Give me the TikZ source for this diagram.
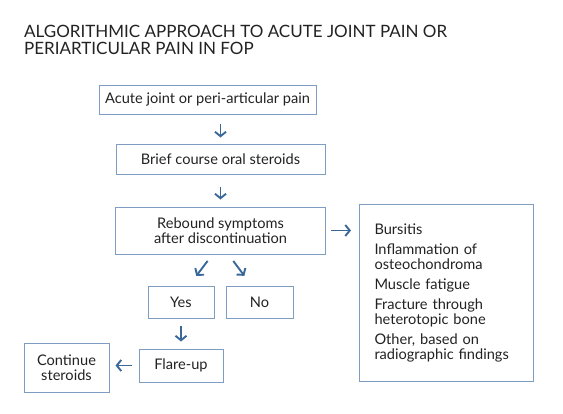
\documentclass[tikz,border=0pt]{standalone}
\usepackage{xcolor}
\usepackage{fontspec}
\setmainfont{Lato}
\usepackage{tikz}
\usetikzlibrary{arrows.meta, positioning}

\definecolor{boxline}{HTML}{7F9CC2}
\definecolor{arrowblue}{HTML}{3A6898}
\definecolor{inktext}{HTML}{222222}

\begin{document}
\begin{tikzpicture}[x=1pt, y=-1pt, node distance=30pt,
    box/.style={rectangle, draw=boxline, line width=1pt, text=inktext, align=center,
      font=\fontsize{14.6}{15}\selectfont, inner sep=2pt},
    arr/.style={-{Straight Barb[length=4.5pt, width=11pt]}, draw=arrowblue, line width=1.9pt}]
    \useasboundingbox (0,0) rectangle (563,413);

    \node (title) [anchor=north west, align=left, text=inktext, inner sep=0pt,
      font=\fontsize{17}{17}\selectfont] at (24,25)
      {ALGORITHMIC APPROACH TO ACUTE JOINT PAIN OR\\PERIARTICULAR PAIN IN FOP};

    \node (acute) [box, minimum width=217pt, minimum height=29pt] at (207.5,99.5) {Acute joint or peri-articular pain};
    \node (brief) [box, minimum width=209pt, minimum height=30pt, below=29pt of acute, xshift=13pt] {Brief course oral steroids};
    \node (rebound) [box, minimum width=210pt, minimum height=47pt, below=32pt of brief] {Rebound symptoms\\after discontinuation};
    \node (yes) [box, minimum width=66pt, minimum height=32pt, below=31pt of rebound, xshift=-39.5pt] {Yes};
    \node (no) [box, minimum width=67pt, minimum height=32pt, right=11pt of yes] {No};
    \node (flare) [box, minimum width=84pt, minimum height=33pt, below=30pt of yes] {Flare-up};
    \node (cont) [box, minimum width=85pt, minimum height=49pt, left=29pt of flare, yshift=-2pt] {Continue\\steroids};
    \node (causes) [box, align=left, text width=144pt, inner xsep=15pt, minimum height=177pt,
      right=33pt of rebound.north east, anchor=north west, yshift=3pt]
      {Bursitis\\[5pt]
       Inflammation of\\osteochondroma\\[5pt]
       Muscle fatigue\\[5pt]
       Fracture through\\heterotopic bone\\[5pt]
       Other, based on\\radiographic findings};

    \draw [arr, shorten <=9pt, shorten >=6pt] (brief.north |- acute.south) -- (brief.north);
    \draw [arr, shorten <=12pt, shorten >=7pt] (brief.south) -- (rebound.north);
    \draw [arr, shorten <=5pt, shorten >=8pt] (rebound.east) -- (rebound.east -| causes.west);
    \draw [arr, shorten <=8pt, shorten >=12pt] ([xshift=-8pt]rebound.south) -- ([xshift=8pt]yes.north);
    \draw [arr, shorten <=8pt, shorten >=12pt] ([xshift=8pt]rebound.south) -- ([xshift=-8pt]no.north);
    \draw [arr, shorten <=7pt, shorten >=7pt] (yes.south) -- (flare.north);
    \draw [arr, shorten <=7pt, shorten >=6pt] (flare.west) -- (flare.west -| cont.east);
\end{tikzpicture}
\end{document}
